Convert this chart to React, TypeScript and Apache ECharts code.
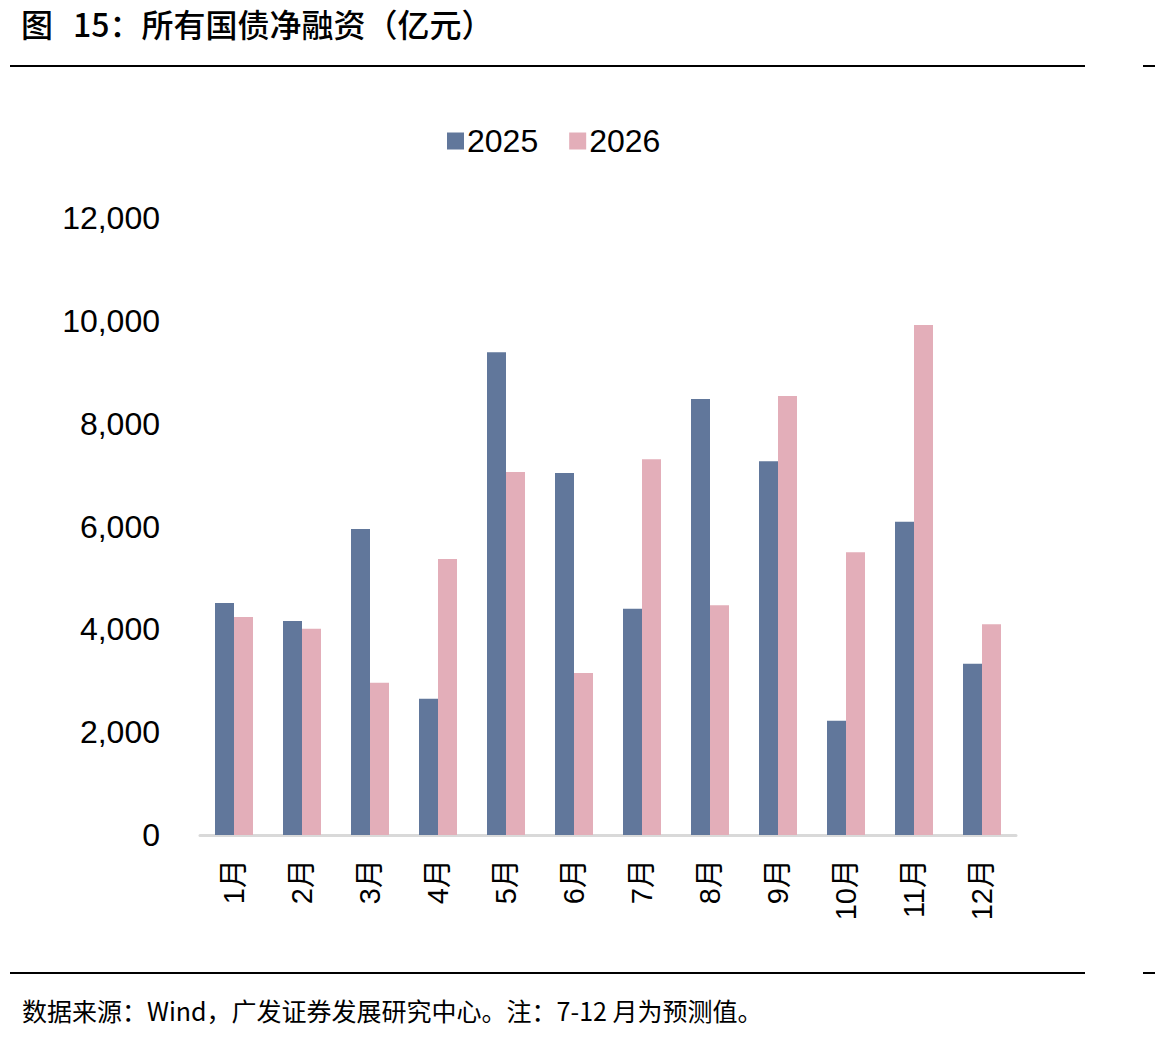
import React, { useEffect, useRef } from "react";
import * as echarts from "echarts";

const months = ["1月", "2月", "3月", "4月", "5月", "6月", "7月", "8月", "9月", "10月", "11月", "12月"];
const values2025 = [4510, 4160, 5950, 2650, 9390, 7040, 4400, 8480, 7270, 2220, 6090, 3330];
const values2026 = [4240, 4010, 2960, 5370, 7060, 3150, 7310, 4470, 8540, 5500, 9920, 4100];
const yTicks = { min: 0, max: 12000, interval: 2000 };

const titleLead = "图";
const titleText = "15：所有国债净融资（亿元）";
const footerText = "数据来源：Wind，广发证券发展研究中心。注：7-12 月为预测值。";

export default function App() {
  const ref = useRef<HTMLDivElement>(null);

  useEffect(() => {
    if (!ref.current) return;
    const chart = echarts.init(ref.current, undefined, { renderer: "svg" });
    const sans = "'Liberation Sans', Arial, 'Noto Sans CJK SC', sans-serif";
    const cjk = "'Noto Sans CJK SC', sans-serif";
    chart.setOption({
      animation: false,
      backgroundColor: "#ffffff",
      legend: {
        top: 120,
        left: 442,
        itemWidth: 17,
        itemHeight: 17,
        itemGap: 31,
        icon: "rect",
        textStyle: { fontSize: 32, color: "#000", fontFamily: sans, padding: [0, 0, 0, -2] },
        data: ["2025", "2026"],
      },
      grid: { left: 200, right: 139, top: 218, bottom: 1042 - 835, containLabel: false },
      xAxis: {
        type: "category",
        data: months,
        axisLine: { show: true, lineStyle: { color: "#D9D9D9", width: 3 } },
        axisTick: { show: false },
        axisLabel: {
          rotate: 90,
          margin: 24,
          fontSize: 29,
          color: "#000",
          fontFamily: sans,
        },
      },
      yAxis: {
        type: "value",
        min: yTicks.min,
        max: yTicks.max,
        interval: yTicks.interval,
        splitLine: { show: false },
        axisLine: { show: false },
        axisTick: { show: false },
        axisLabel: {
          fontSize: 32,
          color: "#000",
          fontFamily: sans,
          margin: 40,
          formatter: (v: number) => v.toLocaleString("en-US"),
        },
      },
      series: [
        {
          name: "2025",
          type: "bar",
          data: values2025,
          barWidth: 19,
          barGap: "0%",
          itemStyle: { color: "#61779B" },
        },
        {
          name: "2026",
          type: "bar",
          data: values2026,
          barWidth: 19,
          itemStyle: { color: "#E3AEB9" },
        },
      ],
      graphic: [
        {
          type: "text",
          left: 21,
          top: 7,
          style: { text: titleLead, fontSize: 32, fontFamily: cjk, fontWeight: 500, fill: "#000" },
        },
        {
          type: "text",
          left: 73,
          top: 7,
          style: { text: titleText, fontSize: 32, fontFamily: cjk, fontWeight: 500, fill: "#000" },
        },
        { type: "rect", shape: { x: 10, y: 65, width: 1075, height: 2 }, style: { fill: "#000" } },
        { type: "rect", shape: { x: 1143, y: 65, width: 12, height: 2 }, style: { fill: "#000" } },
        { type: "rect", shape: { x: 10, y: 972, width: 1075, height: 2 }, style: { fill: "#000" } },
        { type: "rect", shape: { x: 1143, y: 972, width: 12, height: 2 }, style: { fill: "#000" } },
        {
          type: "text",
          left: 22,
          top: 997,
          style: { text: footerText, fontSize: 25, fontFamily: cjk, fill: "#000" },
        },
      ],
    });
    return () => chart.dispose();
  }, []);

  return (
    <div
      ref={ref}
      style={{ position: "absolute", left: 0, top: 0, width: 1155, height: 1042 }}
    />
  );
}
